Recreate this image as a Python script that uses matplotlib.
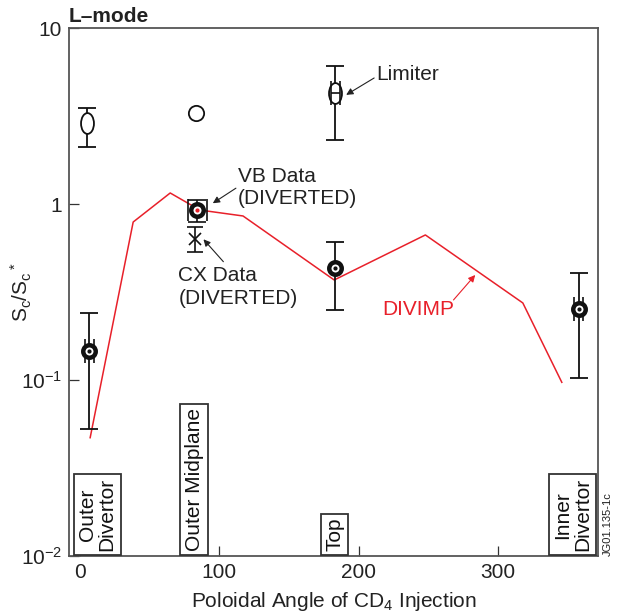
import numpy as np
import matplotlib.pyplot as plt
from matplotlib.path import Path
from matplotlib.transforms import Affine2D, blended_transform_factory
from matplotlib.ticker import FixedLocator, FixedFormatter, NullLocator

plt.rcParams['font.family'] = ['Liberation Sans', 'DejaVu Sans']
plt.rcParams['mathtext.fontset'] = 'custom'
plt.rcParams['mathtext.rm'] = 'Liberation Sans'
plt.rcParams['mathtext.it'] = 'Liberation Sans:italic'
plt.rcParams['font.size'] = 15

# DIVIMP model curve
divimp_angle = [7.2, 38.1, 64.7, 86, 117, 182.5, 248, 318, 346]
divimp_val = [0.047, 0.79, 1.155, 0.924, 0.855, 0.37, 0.667, 0.274, 0.097]

# limiter data (open markers)
lim_angle = [4.8, 183.2]
lim_val = [2.88, 4.27]
lim_lo = [2.10, 2.31]
lim_hi = [3.53, 6.09]
mid_angle = [83.1]
mid_val = [3.28]

# diverted data (bullseye markers)
div_angle = [6.7, 183.0, 358.0]
div_val = [0.146, 0.431, 0.253]
div_lo = [0.0528, 0.25, 0.103]
div_hi = [0.241, 0.608, 0.405]
div_small = [True, False, True]

# VB and CX data at outer midplane
vb_angle, vb_val, vb_lo, vb_hi = 84.0, 0.924, 0.79, 1.054
cx_angle, cx_val, cx_lo, cx_hi = 82.6, 0.63, 0.536, 0.737

# location labels
loc_names = ['Outer\nDivertor', 'Outer Midplane', 'Top', 'Inner\nDivertor']
loc_angle = [12.2, 81.9, 182.8, 354.0]

red = '#e8202a'
ink = '#111111'

fig = plt.figure(figsize=(6.2, 6.14), dpi=100)
ax = fig.add_axes([69 / 620, 1 - 556 / 614, 529 / 620, 528 / 614])
ax.set_yscale('log')
ax.set_xlim(-8, 372)
ax.set_ylim(0.01, 10)

# DIVIMP
ax.plot(divimp_angle, divimp_val, color=red, lw=1.1, zorder=3)

# ellipse marker for limiter points
ell = Path.unit_circle().transformed(Affine2D().scale(0.62, 1.0))

# limiter error bars
for a, v, lo, hi in zip(lim_angle, lim_val, lim_lo, lim_hi):
    ax.errorbar([a], [v], yerr=[[v - lo], [hi - v]], fmt='none', ecolor=ink,
                elinewidth=1.3, capsize=6.3, capthick=1.3, zorder=4)
ax.plot(lim_angle, lim_val, linestyle='none', marker=ell, ms=15, mfc='white',
        mec=ink, mew=1.3, zorder=5)
# small spread on top limiter point
ax.errorbar([lim_angle[1]], [lim_val[1]], xerr=3.3, fmt='none', ecolor=ink,
            elinewidth=1.2, capsize=8.7, capthick=1.2, zorder=6)
ax.plot(mid_angle, mid_val, linestyle='none', marker='o', ms=11, mfc='white',
        mec=ink, mew=1.3, zorder=5)

# diverted points
for a, v, lo, hi, sm in zip(div_angle, div_val, div_lo, div_hi, div_small):
    ax.errorbar([a], [v], yerr=[[v - lo], [hi - v]], fmt='none', ecolor=ink,
                elinewidth=1.3, capsize=6.3, capthick=1.3, zorder=4)
    if sm:
        ax.errorbar([a], [v], xerr=3.3, fmt='none', ecolor=ink,
                    elinewidth=1.2, capsize=8.9, capthick=1.2, zorder=4)
ax.plot(div_angle, div_val, linestyle='none', marker='o', ms=9, mfc='white',
        mec=ink, mew=3.2, zorder=5)
ax.plot(div_angle, div_val, linestyle='none', marker='o', ms=2, mfc=ink,
        mec=ink, zorder=6)

# VB data (box)
ax.errorbar([vb_angle], [vb_val], yerr=[[vb_val - vb_lo], [vb_hi - vb_val]],
            fmt='none', ecolor=ink, elinewidth=1.2, capsize=6.8, capthick=1.2, zorder=4)
ax.errorbar([vb_angle], [vb_val], xerr=6.8, fmt='none', ecolor=ink,
            elinewidth=0, capsize=7.8, capthick=1.2, zorder=4)
ax.plot([vb_angle], [vb_val], linestyle='none', marker='o', ms=9, mfc='white',
        mec=ink, mew=3.2, zorder=5)
ax.plot([vb_angle], [vb_val], linestyle='none', marker='o', ms=2, mfc=red,
        mec=red, zorder=6)

# CX data
ax.errorbar([cx_angle], [cx_val], yerr=[[cx_val - cx_lo], [cx_hi - cx_val]],
            fmt='none', ecolor=ink, elinewidth=1.2, capsize=6.1, capthick=1.2, zorder=4)
ax.plot([cx_angle], [cx_val], linestyle='none', marker='x', ms=9, mec=ink,
        mew=1.2, zorder=5)

# annotations
arr = dict(arrowstyle='-|>', color='#222222', lw=0.8, shrinkA=0, shrinkB=0,
           mutation_scale=10)
ax.text(212.6, 5.41, 'Limiter', ha='left', va='center', color='#222222')
ax.annotate('', xy=(191.1, 4.17), xytext=(211.2, 5.2), arrowprops=arr)

ax.text(113.5, 1.24, 'VB Data\n(DIVERTED)', ha='left', va='center',
        color='#222222', linespacing=1.25)
ax.annotate('', xy=(95.3, 1.01), xytext=(111.9, 1.23), arrowprops=arr)

ax.text(70.6, 0.336, 'CX Data\n(DIVERTED)', ha='left', va='center',
        color='#222222', linespacing=1.25)
ax.annotate('', xy=(88.6, 0.63), xytext=(102.9, 0.47), arrowprops=arr)

ax.text(216.7, 0.25, 'DIVIMP', ha='left', va='center', color=red)
arr_red = dict(arr, color=red)
ax.annotate('', xy=(283.8, 0.395), xytext=(268.2, 0.285), arrowprops=arr_red)

# location boxes
trans = blended_transform_factory(ax.transData, ax.transAxes)
for name, a in zip(loc_names, loc_angle):
    ax.text(a, 0.009, name, transform=trans, rotation=90, ha='center',
            va='bottom', color=ink, linespacing=1.05,
            bbox=dict(boxstyle='square,pad=0.2', fc='white', ec='#333333', lw=1.3),
            zorder=7)

# axes styling
for s in ax.spines.values():
    s.set_color('#555555')
    s.set_linewidth(1.3)
ax.set_xticks([0, 100, 200, 300])
ax.yaxis.set_major_locator(FixedLocator([0.01, 0.1, 1, 10]))
ax.yaxis.set_major_formatter(FixedFormatter(['$10^{-2}$', '$10^{-1}$', '1', '10']))
ax.yaxis.set_minor_locator(NullLocator())
ax.tick_params(direction='in', length=7.5, width=0.9, color='#333333',
               labelcolor='#222222', labelsize=15, pad=5)

ax.set_xlabel('Poloidal Angle of CD$_4$ Injection', color='#222222', labelpad=6)
ax.set_ylabel(r'$\mathregular{S_c/S_c{}^*}$', color='#222222')
ax.yaxis.set_label_coords(-0.066, 0.5)

ax.text(0.0, 1.011, 'L–mode', transform=ax.transAxes, ha='left',
        va='baseline', fontweight='bold', fontsize=15, color='#222222')

fig.text(608 / 620, 1 - 556 / 614, 'JG01.135-1c', rotation=90, ha='center',
         va='bottom', fontsize=8, color='#222222')

fig.savefig('out.png', dpi=100)
